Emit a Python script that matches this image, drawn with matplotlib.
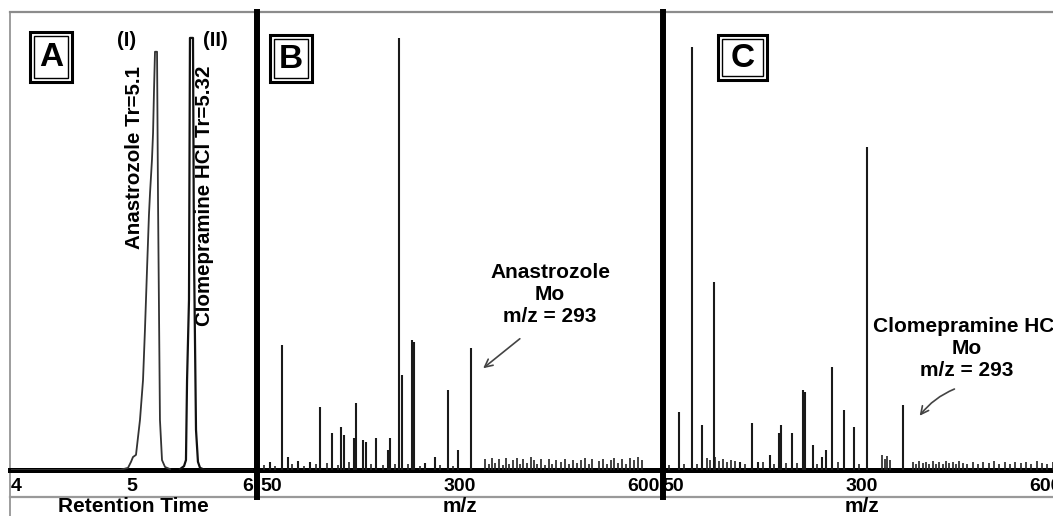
import matplotlib
matplotlib.use("Agg")
import matplotlib.pyplot as plt
from matplotlib.patches import Rectangle

plt.rcParams["font.family"] = ["Liberation Sans", "DejaVu Sans"]
plt.rcParams["font.weight"] = "bold"

# panel A: chromatogram (retention time, relative intensity)
peak1_t = [4.0, 4.901, 4.967, 4.992, 5.008, 5.033, 5.066, 5.091, 5.107, 5.124, 5.140, 5.149,
           5.165, 5.174, 5.182, 5.190, 5.207, 5.215, 5.231, 5.248, 5.273, 5.314]
peak1_i = [0, 0, 0.5, 1.9, 3.0, 3.5, 11.6, 20.8, 32.4, 46.3, 59.0, 64.1,
           71.8, 78.0, 88.0, 96.8, 96.8, 62.5, 11.6, 2.3, 0.7, 0.2]
peak2_t = [5.397, 5.430, 5.446, 5.455, 5.471, 5.479, 5.504, 5.512, 5.529, 5.545, 5.562, 5.603, 6.0]
peak2_i = [0.2, 0.9, 2.3, 20.8, 39.4, 100, 100, 50.9, 9.3, 1.9, 0.5, 0, 0]

# panel B: mass spectrum of anastrozole
mz_B = [15, 33, 42, 57, 75, 90, 108, 121.5, 126, 141, 144, 154.5, 159, 174, 192, 195,
        208.5, 213, 228, 231, 247.5, 262.5, 282, 297, 316.5]
int_B = [1.9, 28.9, 3.0, 2.1, 1.9, 14.6, 8.6, 10.0, 8.1, 7.4, 15.5, 6.9, 6.5, 7.4, 4.6, 7.4,
         100, 22.0, 30.1, 29.6, 1.6, 3.0, 18.5, 4.6, 28.2]
noise_B_mz = [6, 22, 48, 66, 84, 100, 117, 133, 166, 184, 202, 222, 240, 270, 290,
              338, 343, 348, 353, 358, 364, 369, 374, 379, 385, 390, 395, 401, 406, 411,
              416, 421, 427, 433, 438, 444, 452, 457, 463, 469, 475, 481, 487, 493, 498,
              508, 514, 520, 526, 531, 537, 543, 549, 555, 561, 567, 573]
noise_B_int = [1.2, 1.0, 1.5, 1.0, 1.3, 1.6, 1.2, 1.8, 1.4, 1.1, 1.3, 1.5, 1.0, 1.2, 1.0,
               2.6, 1.4, 2.8, 1.6, 2.5, 1.2, 2.7, 1.5, 2.4, 2.8, 1.3, 2.6, 1.7, 2.9, 2.2,
               1.4, 2.5, 1.2, 2.6, 1.5, 2.3, 1.8, 2.6, 1.3, 2.4, 1.6, 2.2, 2.7, 1.4, 2.5,
               2.0, 2.6, 1.5, 2.4, 2.8, 1.6, 2.5, 1.3, 2.7, 2.2, 2.9, 2.4]

# panel C: mass spectrum of clomipramine HCl
mz_C = [25.5, 45, 60, 78, 117, 135, 144, 162, 175.5, 178.5, 195, 211.5, 214.5, 226.5,
        240, 246, 255, 273, 288, 307.5, 361.5]
int_C = [13.4, 97.9, 10.4, 43.5, 1.9, 10.9, 1.9, 3.5, 8.6, 10.4, 8.6, 18.5, 18.1, 5.8,
         3.0, 4.6, 23.8, 13.9, 10.0, 74.8, 15.0]
noise_C_mz = [10, 33, 52, 68, 72, 80, 86, 92, 98, 104, 110, 124, 152, 168, 186, 202, 232, 264,
              296, 330, 334, 338, 342, 376, 381, 386, 391, 396, 401, 406, 411, 416, 421,
              426, 431, 436, 441, 446, 451, 458, 466, 474, 482, 490, 498, 506, 514, 522,
              530, 538, 546, 554, 562, 570, 578, 586]
noise_C_int = [1.2, 1.5, 1.3, 2.8, 2.3, 3.0, 2.1, 2.6, 1.8, 2.4, 2.0, 1.5, 1.8, 1.4, 1.6, 1.7,
               1.5, 1.9, 1.3, 3.5, 2.6, 3.2, 2.4, 1.8, 1.4, 2.0, 1.6, 1.9, 1.3, 2.1, 1.5, 1.8,
               1.4, 2.0, 1.6, 1.9, 1.3, 2.0, 1.7, 1.5, 1.9, 1.4, 1.8, 1.6, 2.0, 1.5, 1.8,
               1.4, 1.9, 1.6, 1.8, 1.5, 2.0, 1.7, 1.4, 1.9]

W, H = 1053, 516
fig = plt.figure(figsize=(W / 100, H / 100), dpi=100)

bg = fig.add_axes([0, 0, 1, 1])
bg.set_xlim(0, W)
bg.set_ylim(H, 0)
bg.axis("off")


def px_axes(x0, x1, y0, y1):
    ax = fig.add_axes([x0 / W, (H - y1) / H, (x1 - x0) / W, (y1 - y0) / H])
    ax.patch.set_alpha(0)
    for s in ax.spines.values():
        s.set_visible(False)
    ax.set_yticks([])
    ax.set_ylim(0, 106)
    ax.tick_params(axis="x", length=0, pad=6, labelsize=14)
    return ax


axA = px_axes(11, 253, 12, 470)
axB = px_axes(260, 660, 12, 470)
axC = px_axes(662, 1062, 12, 470)

axA.plot(peak1_t, peak1_i, color="#333333", lw=1.3)
axA.plot(peak2_t, peak2_i, color="#111111", lw=1.6)
axA.set_xlim(4, 6)
axA.set_xticks([4, 5, 6])
axA.set_xticklabels(["4", "5", "6"])

axB.vlines(noise_B_mz, 0, noise_B_int, color="#222222", lw=1.2)
axB.vlines(mz_B, 0, int_B, color="#1a1a1a", lw=1.5)
axB.set_xlim(0, 600)
axB.set_xticks([0, 300, 600])
axB.set_xticklabels(["50", "300", "600"])

axC.vlines(noise_C_mz, 0, noise_C_int, color="#222222", lw=1.2)
axC.vlines(mz_C, 0, int_C, color="#1a1a1a", lw=1.5)
axC.set_xlim(0, 600)
axC.set_xticks([0, 300, 600])
axC.set_xticklabels(["50", "300", "600"])

for ax in (axA, axB, axC):
    labs = ax.get_xticklabels()
    labs[0].set_ha("left")
    labs[-1].set_ha("right")

# frame lines
bg.plot([10, W], [12, 12], color="#8c8c8c", lw=1.6)
bg.plot([10, 10], [12, H], color="#8c8c8c", lw=1.2)
bg.plot([10, W], [497, 497], color="#999999", lw=1.6)
bg.plot([10, W], [470, 470], color="black", lw=3.6)
bg.plot([257, 257], [12, 497], color="black", lw=4.3)
bg.plot([663, 663], [12, 497], color="black", lw=4.3)

# panel letters in boxes
for letter, (x0, y0, x1, y1) in [("A", (30, 32, 72, 82)), ("B", (270, 35, 312, 82)),
                                 ("C", (718, 35, 767, 80))]:
    bg.add_patch(Rectangle((x0, y0), x1 - x0, y1 - y0, fill=False, ec="black", lw=2.2))
    bg.add_patch(Rectangle((x0 + 4, y0 + 4), x1 - x0 - 8, y1 - y0 - 8, fill=False,
                           ec="black", lw=1.0))
    bg.text((x0 + x1) / 2, (y0 + y1) / 2 + 1, letter, fontsize=24, ha="center",
            va="center")

# panel A labels
bg.text(127, 40, "(I)", fontsize=14.5, ha="center", va="center")
bg.text(215, 40, "(II)", fontsize=14.5, ha="center", va="center")
bg.text(135, 66, "Anastrozole Tr=5.1", fontsize=14.8, rotation=90, ha="center", va="top")
bg.text(205, 66, "Clomepramine HCl Tr=5.32", fontsize=14.8, rotation=90, ha="center",
        va="top")

# annotations
bg.text(550, 295, "Anastrozole\nMo\nm/z = 293", fontsize=15, ha="center", va="center",
        linespacing=1.2)
bg.annotate("", xy=(481, 370), xytext=(522, 337),
            arrowprops=dict(arrowstyle="->", color="#444444", lw=1.2, mutation_scale=14))
bg.text(967, 348, "Clomepramine HCl\nMo\nm/z = 293", fontsize=15, ha="center",
        va="center", linespacing=1.2)
bg.annotate("", xy=(918, 418), xytext=(957, 388),
            arrowprops=dict(arrowstyle="->", color="#444444", lw=1.2, mutation_scale=14,
                            connectionstyle="arc3,rad=0.15"))

# axis titles
bg.text(133, 507, "Retention Time", fontsize=15, ha="center", va="center")
bg.text(460, 507, "m/z", fontsize=15, ha="center", va="center")
bg.text(862, 507, "m/z", fontsize=15, ha="center", va="center")

fig.savefig("out.png", dpi=100)
plt.close(fig)
